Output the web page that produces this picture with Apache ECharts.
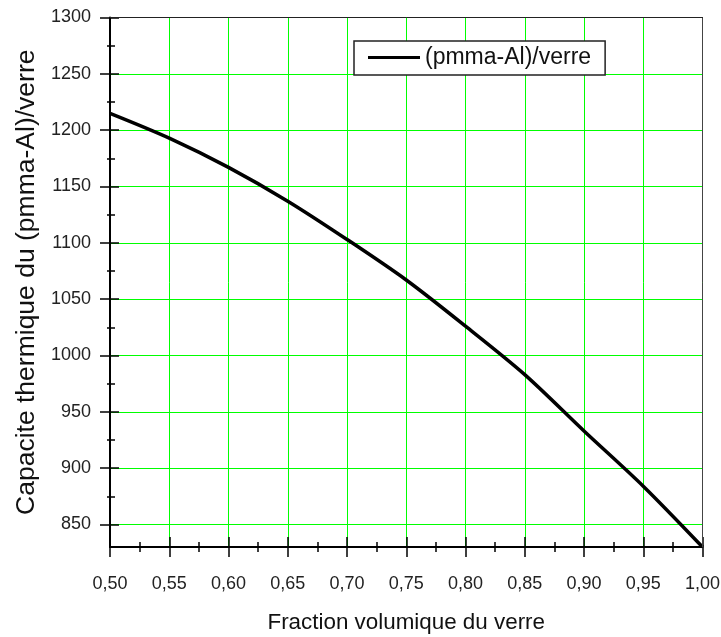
<!DOCTYPE html>
<html>
<head>
<meta charset="utf-8">
<script src="https://cdn.jsdelivr.net/npm/echarts@6/dist/echarts.min.js"></script>
<style>
html,body{margin:0;padding:0;background:#fff;}
#c{width:721px;height:637px;}
</style>
</head>
<body>
<div id="c"></div>
<script>
// ---- data ----
const xValues = [0.50, 0.55, 0.60, 0.65, 0.70, 0.75, 0.80, 0.85, 0.90, 0.95, 1.00];
const yValues = [1215, 1193, 1167, 1137, 1103, 1067, 1026, 983, 933, 884, 830];
const seriesName = '(pmma-Al)/verre';
const xMajorTicks = [0.50, 0.55, 0.60, 0.65, 0.70, 0.75, 0.80, 0.85, 0.90, 0.95, 1.00];
const xMinorTicks = [0.525, 0.575, 0.625, 0.675, 0.725, 0.775, 0.825, 0.875, 0.925, 0.975];
const yMajorTicks = [850, 900, 950, 1000, 1050, 1100, 1150, 1200, 1250, 1300];
const yMinorTicks = [875, 925, 975, 1025, 1075, 1125, 1175, 1225, 1275];
const xTitle = 'Fraction volumique du verre';
const yTitle = 'Capacite thermique du (pmma-Al)/verre';

const FONT = "'Liberation Sans', Arial, sans-serif";
const X_MIN = 0.5, X_MAX = 1.0, Y_MIN = 830, Y_MAX = 1300;
const GREEN = '#00ff00';

const chart = echarts.init(document.getElementById('c'), null, {renderer: 'canvas'});

function helperX(extra) {
  return Object.assign({
    type: 'value', min: X_MIN, max: X_MAX, position: 'bottom',
    axisLine: {show: false}, axisLabel: {show: false}, splitLine: {show: false}, splitArea: {show: false}
  }, extra);
}
function helperY(extra) {
  return Object.assign({
    type: 'value', min: Y_MIN, max: Y_MAX, position: 'left',
    axisLine: {show: false}, axisLabel: {show: false}, splitLine: {show: false}, splitArea: {show: false}
  }, extra);
}
const tickStyle = {color: '#000', width: 1.5};

const option = {
  backgroundColor: '#ffffff',
  animation: false,
  grid: {left: 110, right: 18.5, top: 17.5, bottom: 90, containLabel: false, outerBoundsMode: 'none'},
  legend: {
    show: true,
    left: 354, top: 41,
    data: [{name: seriesName, icon: 'path://M0,0H52V3H0Z'}],
    backgroundColor: '#fff',
    borderColor: '#222', borderWidth: 1.5,
    padding: [5, 14, 6, 14],
    itemWidth: 52, itemHeight: 3,
    textStyle: {fontFamily: FONT, fontSize: 23, color: '#111'}
  },
  xAxis: [
    {
      type: 'value', min: X_MIN, max: X_MAX, position: 'bottom',
      name: xTitle, nameLocation: 'middle', nameGap: 65,
      nameTextStyle: {fontFamily: FONT, fontSize: 22.4, color: '#111'},
      axisLine: {show: true, onZero: false, lineStyle: {color: '#000', width: 2}},
      axisTick: {show: true, inside: false, length: 10, customValues: xMajorTicks, lineStyle: tickStyle},
      axisLabel: {margin: 28, fontFamily: FONT, fontSize: 18, color: '#222', customValues: xMajorTicks,
        formatter: v => v.toFixed(2).replace('.', ',')},
      splitLine: {show: true, lineStyle: {color: GREEN, width: 1}}
    },
    helperX({axisTick: {show: true, inside: true, length: 10, customValues: xMajorTicks, lineStyle: tickStyle}}),
    helperX({axisTick: {show: true, inside: true, length: 5, customValues: xMinorTicks, lineStyle: tickStyle}}),
    helperX({axisTick: {show: true, inside: false, length: 5, customValues: xMinorTicks, lineStyle: tickStyle}}),
    helperX({position: 'top', z: 5, axisLine: {show: true, onZero: false, lineStyle: {color: '#222', width: 1}}, axisTick: {show: false}})
  ],
  yAxis: [
    {
      type: 'value', min: Y_MIN, max: Y_MAX, position: 'left',
      name: yTitle, nameLocation: 'middle', nameGap: 68, nameRotate: 90,
      nameTextStyle: {fontFamily: FONT, fontSize: 26.5, color: '#111'},
      axisLine: {show: true, onZero: false, lineStyle: {color: '#000', width: 2}},
      axisTick: {show: true, inside: false, length: 10, customValues: yMajorTicks, lineStyle: tickStyle},
      axisLabel: {margin: 19, fontFamily: FONT, fontSize: 18, color: '#222', customValues: yMajorTicks,
        formatter: v => String(v)},
      splitLine: {show: true, lineStyle: {color: GREEN, width: 1}}
    },
    helperY({axisTick: {show: true, inside: true, length: 9, customValues: yMajorTicks, lineStyle: tickStyle}}),
    helperY({axisTick: {show: true, inside: true, length: 5, customValues: yMinorTicks, lineStyle: tickStyle}}),
    helperY({axisTick: {show: true, inside: false, length: 3, customValues: yMinorTicks, lineStyle: tickStyle}}),
    helperY({position: 'right', z: 5, axisLine: {show: true, onZero: false, lineStyle: {color: '#444', width: 1}}, axisTick: {show: false}})
  ],
  series: [{
    name: seriesName,
    type: 'line',
    xAxisIndex: 0, yAxisIndex: 0,
    data: xValues.map((x, i) => [x, yValues[i]]),
    smooth: 0.3,
    symbol: 'none',
    lineStyle: {color: '#000', width: 3.5},
    itemStyle: {color: '#000'},
    z: 3
  }]
};
chart.setOption(option);
</script>
</body>
</html>
